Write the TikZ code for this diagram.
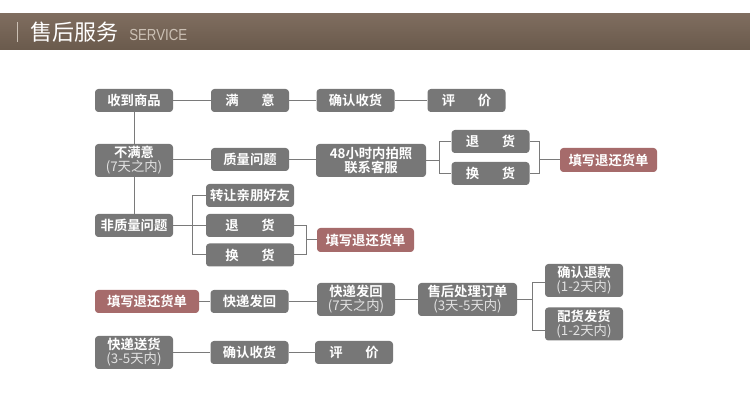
\documentclass[tikz,border=0pt]{standalone}
\usepackage{fontspec}
\setmainfont{Liberation Sans}
\newfontfamily\cjk{Noto Sans CJK SC}[BoldFont={Noto Sans CJK SC Bold}]
\usepackage{xcolor}
\usetikzlibrary{positioning}
\definecolor{svBox}{HTML}{777777}
\definecolor{svKey}{HTML}{A66B6B}
\definecolor{svLine}{HTML}{7A7A7A}
\definecolor{svSub}{HTML}{E2E2E2}
\definecolor{svBarTop}{HTML}{7F6D5F}
\definecolor{svBarBottom}{HTML}{6A5A4C}
\definecolor{svBarText}{HTML}{CBC0B4}
\newcommand\svsub[1]{\\{\mdseries\color{svSub}#1}}
\newcommand\svgap{\hspace{1.7em}}
\tikzset{
  sv diagram/.style={x=0.75pt, y=-0.75pt,
    font=\cjk\fontsize{10}{10.5}\selectfont},
  sv box/.style={fill=svBox, text=white, rounded corners=2.5pt,
    inner sep=0pt, minimum width=58.5pt, minimum height=17.25pt,
    align=center, font=\cjk\bfseries\fontsize{10}{10.5}\selectfont},
  sv tall/.style={sv box, minimum height=24.75pt},
  sv key box/.style={sv box, fill=svKey, minimum width=72.75pt, minimum height=18pt},
  sv line/.style={draw=svLine, line width=0.75pt}
}
\begin{document}
\begin{tikzpicture}[sv diagram]
\useasboundingbox (0,0) rectangle (750,409);
% header bar
\shade[top color=svBarTop, bottom color=svBarBottom] (0,14) rectangle (750,50);
\draw[svBarText, line width=1pt] (17.5,22) -- (17.5,42);
\node[anchor=west, inner sep=0pt, text=white,
  font=\cjk\fontsize{16.5}{17}\selectfont] (title) at (30,32) {售后服务};
\node[anchor=west, inner sep=0pt, text=svBarText,
  font=\fontsize{12}{12}\selectfont] (titleEn) at (129,35) {\scalebox{0.83}[1]{SERVICE}};

% row 1
\node[sv box] (recv) at (134,100.5) {收到商品};
\node[sv box] (ok) at (250,100.5) {满\svgap 意};
\node[sv box] (okConfirm) at (355.5,100.5) {确认收货};
\node[sv box] (okRate) at (466.5,100.5) {评\svgap 价};

% row 2
\node[sv tall] (notOk) at (134,160.5) {不满意\svsub{(7天之内)}};
\node[sv box] (quality) at (250,159.5) {质量问题};
\node[sv tall, minimum width=82.5pt] (photo) at (371,160.5) {48小时内拍照\\联系客服};
\node[sv box] (qReturn) at (490.5,141.5) {退\svgap 货};
\node[sv box] (qSwap) at (490.5,173.5) {换\svgap 货};
\node[sv key box] (qForm) at (608.5,160) {填写退还货单};

% row 3
\node[sv box] (nonQuality) at (134,225.5) {非质量问题};
\node[sv box, minimum width=66pt] (gift) at (250,195.5) {转让亲朋好友};
\node[sv box, minimum width=66pt] (nReturn) at (250,225.5) {退\svgap 货};
\node[sv box, minimum width=66pt] (nSwap) at (250,255) {换\svgap 货};
\node[sv key box] (nForm) at (365.5,240) {填写退还货单};

% row 4
\node[sv key box, minimum width=78pt, minimum height=17.25pt] (form) at (147,301.5) {填写退还货单};
\node[sv box] (sendBack) at (249.5,301.5) {快递发回};
\node[sv tall] (sendBackDays) at (356,299.5) {快递发回\svsub{(7天之内)}};
\node[sv tall, minimum width=74.25pt] (handle) at (467.5,299.5) {售后处理订单\svsub{(3天-5天内)}};
\node[sv tall] (refund) at (584,280.5) {确认退款\svsub{(1-2天内)}};
\node[sv tall] (resend) at (584,324) {配货发货\svsub{(1-2天内)}};

% row 5
\node[sv tall] (deliver) at (134,352.5) {快递送货\svsub{(3-5天内)}};
\node[sv box] (dConfirm) at (249.5,352.5) {确认收货};
\node[sv box] (dRate) at (354,352.5) {评\svgap 价};

% connectors
\draw[sv line] (recv) -- (ok);
\draw[sv line] (ok) -- (okConfirm);
\draw[sv line] (okConfirm) -- (okRate);
\draw[sv line] (recv) -- (notOk);
\draw[sv line] (notOk) -- (nonQuality);
\draw[sv line] (notOk.east |- quality) -- (quality);
\draw[sv line] (quality) -- (photo.west |- quality);
\draw[sv line] (photo.east) -- ++(13,0);
\draw[sv line] (qReturn.west) -- ++(-12,0) |- (qSwap.west);
\draw[sv line] (qReturn.east) -- ++(10,0) |- (qSwap.east);
\draw[sv line] (qForm.west) -- ++(-20,0);
\draw[sv line] (nonQuality) -- (nReturn);
\draw[sv line] (gift.west) -- ++(-13,0) |- (nSwap.west);
\draw[sv line] (nReturn.east) -- ++(12,0) |- (nSwap.east);
\draw[sv line] (nForm.west) -- ++(-11,0);
\draw[sv line] (form) -- (sendBack);
\draw[sv line] (sendBack) -- (sendBackDays.west |- sendBack);
\draw[sv line] (sendBackDays) -- (handle);
\draw[sv line] (handle.east) -- ++(16,0);
\draw[sv line] (refund.west) ++(0,2.5) -- ++(-12,0) |- ([yshift=-7pt*0.75]resend.west);
\draw[sv line] (deliver) -- (dConfirm);
\draw[sv line] (dConfirm) -- (dRate);
\end{tikzpicture}
\end{document}
